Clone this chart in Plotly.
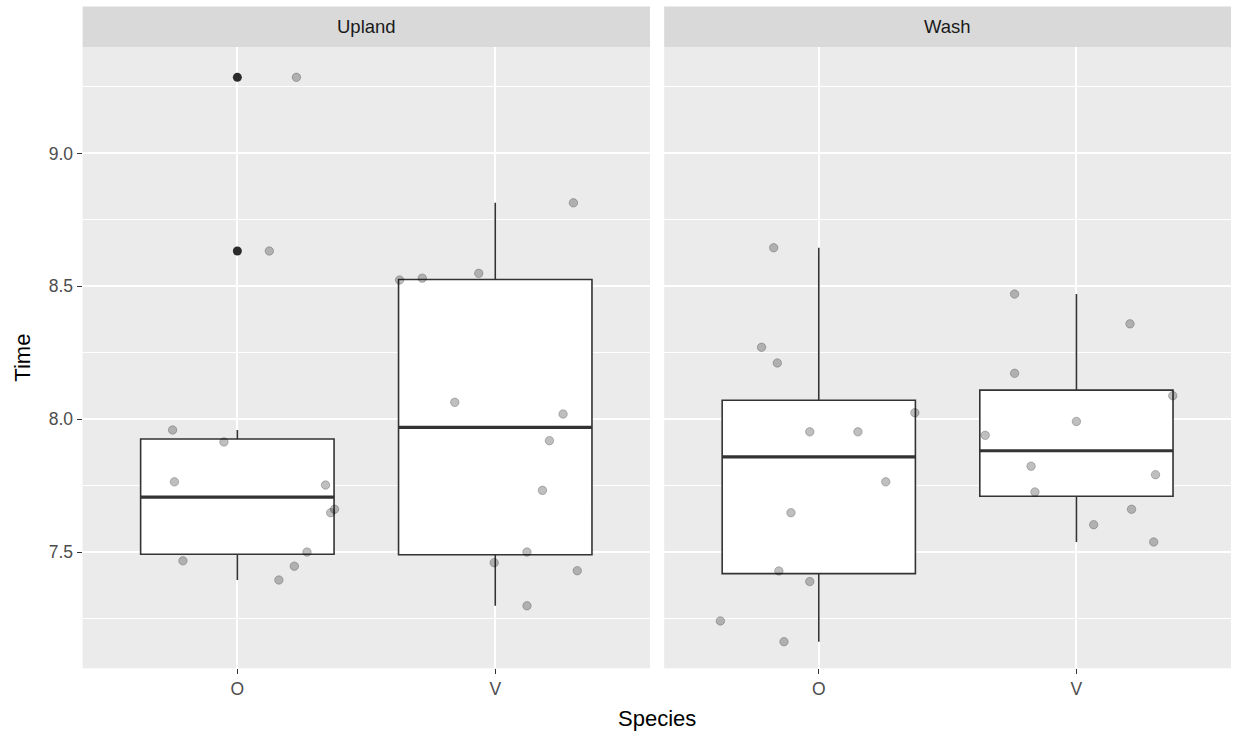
import numpy as np
import plotly.graph_objects as go

# ---- data -------------------------------------------------------------
facets = ["Upland", "Wash"]
species = ["O", "V"]

upland_O_time = [9.286, 8.633, 7.960, 7.915, 7.765, 7.753, 7.662, 7.649, 7.501, 7.468, 7.448, 7.396]
upland_O_jitter = [0.229, 0.124, -0.251, -0.052, -0.244, 0.342, 0.377, 0.362, 0.270, -0.211, 0.221, 0.161]

upland_V_time = [8.814, 8.524, 8.531, 8.549, 8.064, 8.020, 7.920, 7.733, 7.501, 7.461, 7.431, 7.299]
upland_V_jitter = [0.303, -0.371, -0.283, -0.064, -0.157, 0.263, 0.210, 0.183, 0.123, -0.004, 0.318, 0.123]

wash_O_time = [8.645, 8.271, 8.212, 8.025, 7.953, 7.953, 7.765, 7.649, 7.430, 7.390, 7.242, 7.164]
wash_O_jitter = [-0.175, -0.222, -0.161, 0.373, -0.035, 0.152, 0.260, -0.108, -0.155, -0.035, -0.382, -0.135]

wash_V_time = [8.471, 8.359, 8.173, 8.089, 7.992, 7.940, 7.824, 7.792, 7.727, 7.662, 7.604, 7.539]
wash_V_jitter = [-0.240, 0.208, -0.240, 0.374, 0.000, -0.354, -0.176, 0.307, -0.161, 0.214, 0.067, 0.300]

y_ticks = [7.5, 8.0, 8.5, 9.0]
y_tick_labels = ["7.5", "8.0", "8.5", "9.0"]

groups = {
    ("Upland", "O"): (upland_O_time, upland_O_jitter),
    ("Upland", "V"): (upland_V_time, upland_V_jitter),
    ("Wash", "O"): (wash_O_time, wash_O_jitter),
    ("Wash", "V"): (wash_V_time, wash_V_jitter),
}

# ---- styling ----------------------------------------------------------
W, H = 1235, 738
FONT = "Liberation Sans, Arial, sans-serif"
PANEL_BG = "#EBEBEB"
STRIP_BG = "#D9D9D9"
BOX_LINE = "#333333"
BOX_WIDTH = 0.75
TICK_SIZE = 17.5
STRIP_SIZE = 18.5
TITLE_SIZE = 22

# panel geometry in pixels
left_px = [(82.6, 650.0), (664.2, 1231.0)]
top_px, bottom_px = 47.0, 668.3
strip_top_px = 6.5


def px_x(p):
    return p / W


def px_y(p):
    return 1 - p / H


def box_stats(vals):
    v = np.sort(np.asarray(vals, dtype=float))
    q1, med, q3 = np.percentile(v, [25, 50, 75])
    iqr = q3 - q1
    lo = v[v >= q1 - 1.5 * iqr].min()
    hi = v[v <= q3 + 1.5 * iqr].max()
    out = v[(v < lo) | (v > hi)]
    return q1, med, q3, lo, hi, out


fig = go.Figure()

for fi, facet in enumerate(facets):
    xa = "x" if fi == 0 else "x2"
    ya = "y" if fi == 0 else "y2"
    for si, sp in enumerate(species):
        xc = si + 1
        vals, jit = groups[(facet, sp)]
        q1, med, q3, lo, hi, out = box_stats(vals)

        fig.add_trace(go.Box(
            x=[xc], q1=[q1], median=[med], q3=[q3],
            lowerfence=[lo], upperfence=[hi],
            width=BOX_WIDTH, whiskerwidth=0,
            fillcolor="white", line=dict(color=BOX_LINE, width=1.6),
            boxpoints=False, showlegend=False, hoverinfo="skip",
            xaxis=xa, yaxis=ya,
        ))
        # heavier median bar
        fig.add_trace(go.Scatter(
            x=[xc - BOX_WIDTH / 2, xc + BOX_WIDTH / 2], y=[med, med],
            mode="lines", line=dict(color=BOX_LINE, width=3.2),
            showlegend=False, hoverinfo="skip", xaxis=xa, yaxis=ya,
        ))
        # outliers
        if len(out):
            fig.add_trace(go.Scatter(
                x=[xc] * len(out), y=list(out), mode="markers",
                marker=dict(color="#2B2B2B", size=9, line=dict(width=0)),
                showlegend=False, hoverinfo="skip", xaxis=xa, yaxis=ya,
            ))
        # jittered observations
        fig.add_trace(go.Scatter(
            x=[xc + j for j in jit], y=vals, mode="markers",
            marker=dict(color="rgba(0,0,0,0.25)", size=8.5,
                        line=dict(color="rgba(0,0,0,0.22)", width=1)),
            showlegend=False, hoverinfo="skip", xaxis=xa, yaxis=ya,
        ))

xaxis_common = dict(
    range=[0.4, 2.6], tickvals=[1, 2], ticktext=species,
    showgrid=True, gridcolor="white", gridwidth=1.8,
    zeroline=False, showline=False,
    ticks="outside", ticklen=5, tickwidth=1.1, tickcolor="#333333",
    tickfont=dict(family=FONT, size=TICK_SIZE, color="#4D4D4D"),
    fixedrange=True,
)
yaxis_common = dict(
    range=[7.064, 9.40], tickvals=y_ticks, ticktext=y_tick_labels,
    showgrid=True, gridcolor="white", gridwidth=1.8,
    minor=dict(tickvals=[7.25, 7.75, 8.25, 8.75, 9.25], showgrid=True,
               gridcolor="white", gridwidth=0.9, ticks=""),
    zeroline=False, showline=False,
    ticks="outside", ticklen=5, tickwidth=1.1, tickcolor="#333333",
    tickfont=dict(family=FONT, size=TICK_SIZE, color="#4D4D4D"),
    domain=[px_y(bottom_px), px_y(top_px)],
    fixedrange=True,
)

fig.update_layout(
    width=W, height=H,
    margin=dict(l=0, r=0, t=0, b=0),
    paper_bgcolor="white",
    plot_bgcolor=PANEL_BG,
    showlegend=False,
    xaxis=dict(xaxis_common, domain=[px_x(left_px[0][0]), px_x(left_px[0][1])], anchor="y"),
    xaxis2=dict(xaxis_common, domain=[px_x(left_px[1][0]), px_x(left_px[1][1])], anchor="y2"),
    yaxis=dict(yaxis_common, anchor="x"),
    yaxis2=dict(yaxis_common, anchor="x2", matches="y", showticklabels=False, ticks=""),
)

# facet strips
for fi, facet in enumerate(facets):
    x0, x1 = left_px[fi]
    fig.add_shape(type="rect", xref="paper", yref="paper",
                  x0=px_x(x0), x1=px_x(x1), y0=px_y(top_px), y1=px_y(strip_top_px),
                  fillcolor=STRIP_BG, line=dict(width=0), layer="below")
    fig.add_annotation(text=facet, xref="paper", yref="paper",
                       x=px_x((x0 + x1) / 2), y=px_y((top_px + strip_top_px) / 2),
                       xanchor="center", yanchor="middle", showarrow=False,
                       font=dict(family=FONT, size=STRIP_SIZE, color="#1A1A1A"))

# axis titles
fig.add_annotation(text="Species", xref="paper", yref="paper",
                   x=px_x((left_px[0][0] + left_px[1][1]) / 2), y=px_y(718),
                   xanchor="center", yanchor="middle", showarrow=False,
                   font=dict(family=FONT, size=TITLE_SIZE, color="black"))
fig.add_annotation(text="Time", xref="paper", yref="paper",
                   x=px_x(23), y=px_y((top_px + bottom_px) / 2),
                   xanchor="center", yanchor="middle", showarrow=False, textangle=-90,
                   font=dict(family=FONT, size=TITLE_SIZE, color="black"))

fig.write_html("out.html")
